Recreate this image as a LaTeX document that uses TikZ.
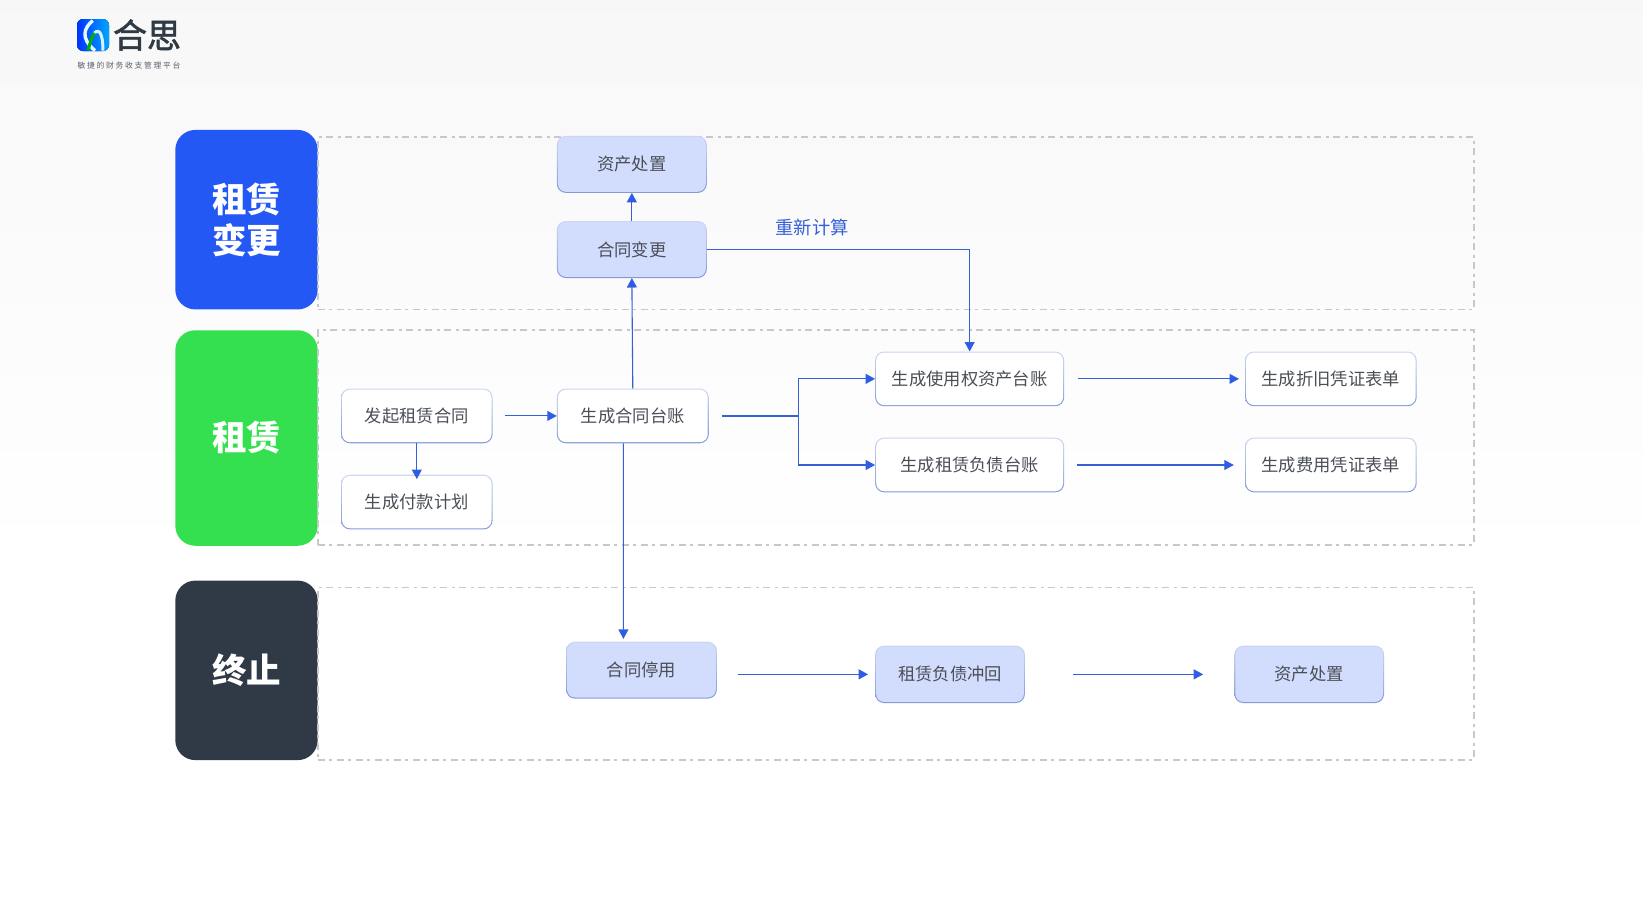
\documentclass[tikz,border=0pt]{standalone}
\usepackage{fontspec}
\setmainfont{Noto Sans CJK SC}
\usetikzlibrary{arrows.meta,calc}
\definecolor{linkblue}{HTML}{3560D8}
\definecolor{headblue}{HTML}{2B5CF0}
\definecolor{bluebox}{HTML}{2458F5}
\definecolor{greenbox}{HTML}{34E04F}
\definecolor{darkbox}{HTML}{303A47}
\definecolor{flowfill}{HTML}{D2DCFD}
\definecolor{edgetop}{HTML}{CCD6F2}
\definecolor{edgebot}{HTML}{7F9AD8}
\definecolor{zonegrey}{HTML}{C8C8C8}
\definecolor{inktext}{HTML}{4A4F57}
\definecolor{logoink}{HTML}{2F3A45}
\tikzset{
  stage/.style={rounded corners=20pt,fill=#1,text=white,inner sep=0pt,outer sep=0pt,
    minimum width=142.4pt,align=center,font=\fontsize{34.5}{41}\selectfont\bfseries},
  zone/.style={draw=zonegrey,line width=1.6pt,inner sep=0pt,outer sep=0pt,minimum width=1156.3pt,
    dash pattern=on 7pt off 4pt on 3pt off 5pt},
  flow/.style={rounded corners=9pt,top color=edgetop,bottom color=edgebot,inner sep=0pt,outer sep=0pt,
    text=inktext,font=\fontsize{17.3}{20}\selectfont,
    path picture={\fill[#1,rounded corners=8pt]
      ([shift={(1.1pt,1.1pt)}]path picture bounding box.south west) rectangle
      ([shift={(-1.1pt,-1.1pt)}]path picture bounding box.north east);}},
  plain/.style={flow=white,minimum height=54.7pt},
  tinted/.style={flow=flowfill,minimum height=57pt},
  link/.style={draw=linkblue,line width=1.1pt,-{Triangle[length=9.5pt,width=10pt,fill=headblue]}},
  trunk/.style={draw=linkblue,line width=2pt},
}
\begin{document}
\begin{tikzpicture}[x=1pt,y=-1.0015pt]
\useasboundingbox (0,0) rectangle (1643,907.64);
\shade[top color=black!3,bottom color=white] (0,0) rectangle (1643,560);

% logo
\fill[left color=blue!80!cyan,right color=cyan!65!blue,rounded corners=6pt] (77,19) rectangle (109,51);
\draw[white!90!cyan,line width=3.4pt] (92.7,20.5) .. controls (84,28) and (80,38) .. (95,50.5);
\draw[white!85!cyan,line width=3pt] (94,33.3) .. controls (100,27) and (103,36) .. (103,50.5);
\draw[green!70!black,line width=3pt] (88.3,50) .. controls (90,43) and (91,38) .. (94.5,33);
\node[inner sep=0pt,text=logoink,font=\fontsize{34}{35}\selectfont\addfontfeature{FakeBold=1.6}] (brand) at (147,35) {合思};
\node[inner sep=0pt,text=logoink!80,font=\fontsize{7.8}{9}\selectfont\addfontfeature{LetterSpace=22}] (tagline) at (129,65) {敏捷的财务收支管理平台};

% stages
\node[stage=bluebox,minimum height=179.5pt] (sChange) at (246.5,219.35) {租赁\\变更};
\node[stage=greenbox,minimum height=215.5pt] (sLease) at (246.5,437.35) {租赁};
\node[stage=darkbox,minimum height=179.5pt] (sEnd) at (246.5,669.35) {终止};

% zones
\node[zone,minimum height=172.6pt] (zChange) at (895.85,222.7) {};
\node[zone,minimum height=215pt] (zLease) at (895.85,437) {};
\node[zone,minimum height=172.6pt] (zEnd) at (895.85,672.7) {};

% flow nodes
\node[tinted,minimum width=150pt] (dispA) at (631.85,164.15) {资产处置};
\node[tinted,minimum width=150pt] (change) at (631.85,249.15) {合同变更};
\node[plain,minimum width=151.6pt] (start) at (416.8,415.3) {发起租赁合同};
\node[plain,minimum width=152pt] (ledger) at (632.8,415.3) {生成合同台账};
\node[plain,minimum width=151.6pt] (pay) at (416.8,501.3) {生成付款计划};
\node[plain,minimum width=189.1pt] (use) at (969.65,378.3) {生成使用权资产台账};
\node[plain,minimum width=189.1pt] (liab) at (969.65,464.3) {生成租赁负债台账};
\node[plain,minimum width=171.7pt] (dep) at (1330.85,378.3) {生成折旧凭证表单};
\node[plain,minimum width=171.7pt] (fee) at (1330.85,464.3) {生成费用凭证表单};
\node[tinted,minimum width=150.9pt] (stop) at (641.45,669.15) {合同停用};
\node[tinted,minimum width=149.8pt,minimum height=57.4pt] (rev) at (950,673.35) {租赁负债冲回};
\node[tinted,minimum width=149.8pt,minimum height=57.4pt] (dispB) at (1309.2,673.35) {资产处置};

\node[inner sep=0pt,text=linkblue,font=\fontsize{18.3}{20}\selectfont] (recalc) at (812,227.3) {重新计算};

% connectors
\coordinate (fork) at (798.5,415.3);
\coordinate (stopIn) at (623.4,638);
\draw[link] (change.north) -- (dispA.south);
\draw[link] (ledger.north) -- (change.south);
\draw[link] (change.east) -| (use.north);
\draw[link] ([xshift=12.2pt]start.east) -- (ledger.west);
\draw[link] (start.south) -- ([yshift=-4.4pt]pay.north);
\draw[link] ([xshift=-9.4pt]ledger.south) -- (stopIn);
\draw[trunk] ([xshift=13pt]ledger.east) -- (fork);
\draw[link] (fork) |- (use.west);
\draw[link] (fork) |- (liab.west);
\draw[link] ([xshift=13.8pt]use.east) -- ([xshift=-6pt]dep.west);
\draw[link] ([xshift=12.7pt]liab.east) -- ([xshift=-11.2pt]fee.west);
\draw[link] ([xshift=20.7pt]stop.east |- rev.west) -- ([xshift=-7pt]rev.west);
\draw[link] ([xshift=47.9pt]rev.east) -- ([xshift=-31.1pt]dispB.west);
\end{tikzpicture}
\end{document}
